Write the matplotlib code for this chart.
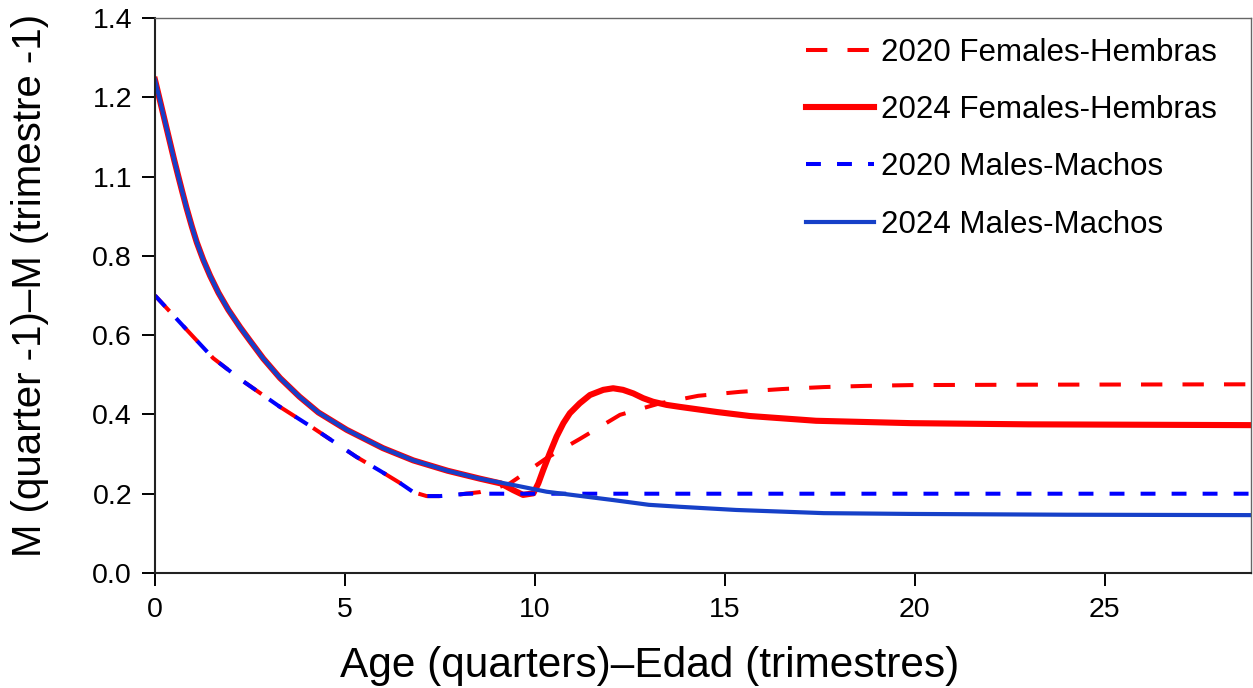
import matplotlib
matplotlib.use("Agg")
import matplotlib.pyplot as plt

plt.rcParams['font.family'] = ['Liberation Sans', 'DejaVu Sans']

# shared early part of the 2024 curves (females == males up to ~9 quarters)
age_early = [0, 0.1, 0.2, 0.3, 0.4, 0.5, 0.61, 0.72, 0.83, 0.97, 1.10, 1.27, 1.45, 1.67, 1.93,
             2.24, 2.5, 2.85, 3.29, 3.8, 4.3, 5.05, 6.0, 6.8, 7.7, 8.55]
m_early = [1.244, 1.204, 1.164, 1.124, 1.084, 1.044, 1.002, 0.961, 0.921, 0.874, 0.834, 0.790, 0.750,
           0.707, 0.664, 0.620, 0.586, 0.541, 0.492, 0.445, 0.405, 0.361, 0.315, 0.284, 0.258, 0.238]

# 2024 females after ~8.5 quarters
age_f24_late = [9.1, 9.43, 9.69, 9.96, 10.09, 10.22, 10.39, 10.57, 10.75, 10.92, 11.18, 11.45, 11.8,
                12.06, 12.32, 12.59, 12.85, 13.11, 13.47, 13.82, 14.8, 15.66, 17.4, 19.9, 23.0, 28.85]
m_f24_late = [0.226, 0.209, 0.197, 0.201, 0.226, 0.260, 0.302, 0.344, 0.378, 0.403, 0.428, 0.449,
              0.462, 0.466, 0.462, 0.453, 0.441, 0.432, 0.424, 0.419, 0.406, 0.396, 0.384, 0.378,
              0.375, 0.373]

# 2024 males after ~8.5 quarters
age_m24_late = [9.43, 10.31, 12.06, 13.0, 13.82, 15.3, 17.6, 19.9, 24.0, 28.85]
m_m24_late = [0.222, 0.205, 0.184, 0.172, 0.167, 0.159, 0.151, 0.149, 0.147, 0.146]

# 2020 females
age_f20 = [0, 0.84, 1.53, 2.3, 3.29, 4.16, 5.3, 5.92, 6.45, 6.8, 7.15, 7.5, 8.0, 8.55, 9.0, 9.34, 9.6,
           10.31, 11.18, 12.24, 13.29, 14.3, 15.4, 16.5, 17.6, 18.7, 19.9, 23.0, 28.85]
m_f20 = [0.70, 0.613, 0.542, 0.485, 0.419, 0.366, 0.293, 0.258, 0.227, 0.204, 0.194, 0.194, 0.198, 0.204,
         0.215, 0.226, 0.243, 0.290, 0.338, 0.399, 0.428, 0.447, 0.457, 0.464, 0.469, 0.472, 0.474, 0.475,
         0.476]

# 2020 males
age_m20 = [0, 0.84, 1.53, 2.3, 3.29, 4.16, 5.3, 5.92, 6.45, 6.8, 7.15, 7.5, 8.2, 28.85]
m_m20 = [0.70, 0.613, 0.542, 0.485, 0.419, 0.366, 0.293, 0.258, 0.227, 0.204, 0.194, 0.194, 0.2, 0.2]

labels = ['2020 Females-Hembras', '2024 Females-Hembras', '2020 Males-Machos', '2024 Males-Machos']
y_ticks = [0.0, 0.2, 0.4, 0.6, 0.8, 1.0, 1.2, 1.4]
y_ticklabels = ['0.0', '0.2', '0.4', '0.6', '0.8', '1.1', '1.2', '1.4']
x_ticks = [0, 5, 10, 15, 20, 25]

age_f24 = age_early + age_f24_late
m_f24 = m_early + m_f24_late
age_m24 = age_early + age_m24_late
m_m24 = m_early + m_m24_late

fig = plt.figure(figsize=(12.53, 6.88), dpi=100)
ax = fig.add_axes([155/1253, 1-573/688, (1251-155)/1253, (573-18)/688])

ax.plot(age_f20, m_f20, color='#ff0000', lw=2.9, dashes=(5.3, 5.0), label=labels[0])
ax.plot(age_f24, m_f24, color='#ff0000', lw=4.4, solid_joinstyle='round', label=labels[1])
ax.plot(age_m20, m_m20, color='#0000ff', lw=2.9, dashes=(3.7, 4.0), label=labels[2])
ax.plot(age_m24, m_m24, color='#1640c8', lw=3.0, solid_joinstyle='round', label=labels[3])

ax.set_xlim(0, 28.85)
ax.set_ylim(0, 1.4)
ax.set_xticks(x_ticks)
ax.set_yticks(y_ticks)
ax.set_yticklabels(y_ticklabels)
ax.tick_params(direction='out', length=9.5, width=1.4, labelsize=20.5, colors='black')
ax.tick_params(axis='x', pad=8)
ax.tick_params(axis='y', pad=7)

for side in ['left', 'bottom']:
    ax.spines[side].set_linewidth(1.5)
    ax.spines[side].set_color('#222222')
for side in ['top', 'right']:
    ax.spines[side].set_linewidth(1.0)
    ax.spines[side].set_color('#666666')

fig.text(30/1253, 1-285/688, 'M (quarter -1)\u2013M (trimestre -1)', rotation=90,
         ha='center', va='center', fontsize=29)
fig.text(650/1253, 1-677/688, 'Age (quarters)\u2013Edad (trimestres)', ha='center', va='baseline',
         fontsize=30.5)

ax.legend(loc='upper right', bbox_to_anchor=(1217/1253, 1-38/688), bbox_transform=fig.transFigure,
          frameon=False, fontsize=22.5, handlelength=2.18, handletextpad=0.22, labelspacing=0.87,
          borderpad=0, borderaxespad=0)

fig.savefig('out.png', dpi=100)
